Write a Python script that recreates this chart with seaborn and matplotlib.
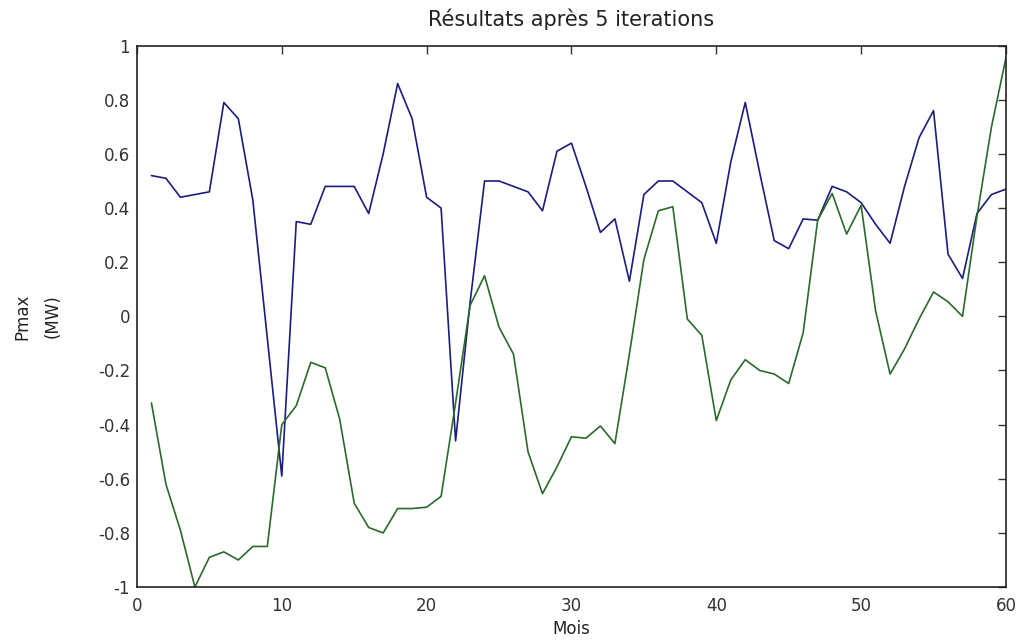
import numpy as np
import pandas as pd
import matplotlib
matplotlib.use("Agg")
import matplotlib.pyplot as plt
import seaborn as sns

mois = list(range(1, 61))

serie_bleue = [0.52, 0.51, 0.44, 0.45, 0.46, 0.79, 0.73, 0.43, -0.08, -0.59,
               0.35, 0.34, 0.48, 0.48, 0.48, 0.38, 0.60, 0.86, 0.73, 0.44,
               0.40, -0.46, 0.05, 0.50, 0.50, 0.48, 0.46, 0.39, 0.61, 0.64,
               0.48, 0.31, 0.36, 0.13, 0.45, 0.50, 0.50, 0.46, 0.42, 0.27,
               0.57, 0.79, 0.53, 0.28, 0.25, 0.36, 0.355, 0.48, 0.46, 0.42,
               0.34, 0.27, 0.48, 0.66, 0.76, 0.23, 0.14, 0.38, 0.45, 0.47]

serie_verte = [-0.32, -0.62, -0.79, -1.00, -0.89, -0.87, -0.90, -0.85, -0.85, -0.40,
               -0.33, -0.17, -0.19, -0.38, -0.69, -0.78, -0.80, -0.71, -0.71, -0.705,
               -0.665, -0.32, 0.04, 0.15, -0.04, -0.14, -0.50, -0.655, -0.556, -0.445,
               -0.45, -0.405, -0.47, -0.14, 0.21, 0.39, 0.405, -0.01, -0.07, -0.385,
               -0.235, -0.16, -0.20, -0.213, -0.248, -0.06, 0.355, 0.454, 0.304, 0.41,
               0.02, -0.213, -0.12, -0.01, 0.09, 0.054, 0.0, 0.37, 0.70, 0.955]

x_ticks = [0, 10, 20, 30, 40, 50, 60]
y_ticks = [-1, -0.8, -0.6, -0.4, -0.2, 0, 0.2, 0.4, 0.6, 0.8, 1]
y_tick_labels = ["-1", "-0.8", "-0.6", "-0.4", "-0.2", "0", "0.2", "0.4", "0.6", "0.8", "1"]

df = pd.DataFrame({"Mois": mois + mois,
                   "P": serie_bleue + serie_verte,
                   "serie": ["bleue"] * 60 + ["verte"] * 60})

sns.set_style("white")
plt.rcParams["font.family"] = ["DejaVu Sans"]

fig = plt.figure(figsize=(10.22, 6.43), dpi=100)
ax = fig.add_axes([0.134, 0.087, 0.8503, 0.842])

sns.lineplot(data=df, x="Mois", y="P", hue="serie",
             palette={"bleue": "#1c1c80", "verte": "#2a6a2a"},
             linewidth=1.2, legend=False, ax=ax, estimator=None, sort=False)

ax.set_xlim(0, 60)
ax.set_ylim(-1, 1)
ax.set_xticks(x_ticks)
ax.set_xticklabels([str(t) for t in x_ticks])
ax.set_yticks(y_ticks)
ax.set_yticklabels(y_tick_labels)
ax.tick_params(axis="both", direction="in", length=6, width=1, labelsize=12,
               colors="#333333", top=True, right=True)
ax.tick_params(axis="x", pad=7)
ax.tick_params(axis="y", pad=5)
for s in ax.spines.values():
    s.set_visible(True)
    s.set_color("#222222")
    s.set_linewidth(1.2)

ax.set_title("Résultats après 5 iterations", fontsize=15, pad=14, color="#222222")
ax.set_xlabel("Mois", fontsize=12, labelpad=4, color="#222222")
ax.set_ylabel("Pmax\n(MW)", fontsize=12, labelpad=26, color="#222222", linespacing=1.9)

fig.savefig("out.png", dpi=100, facecolor="white")
